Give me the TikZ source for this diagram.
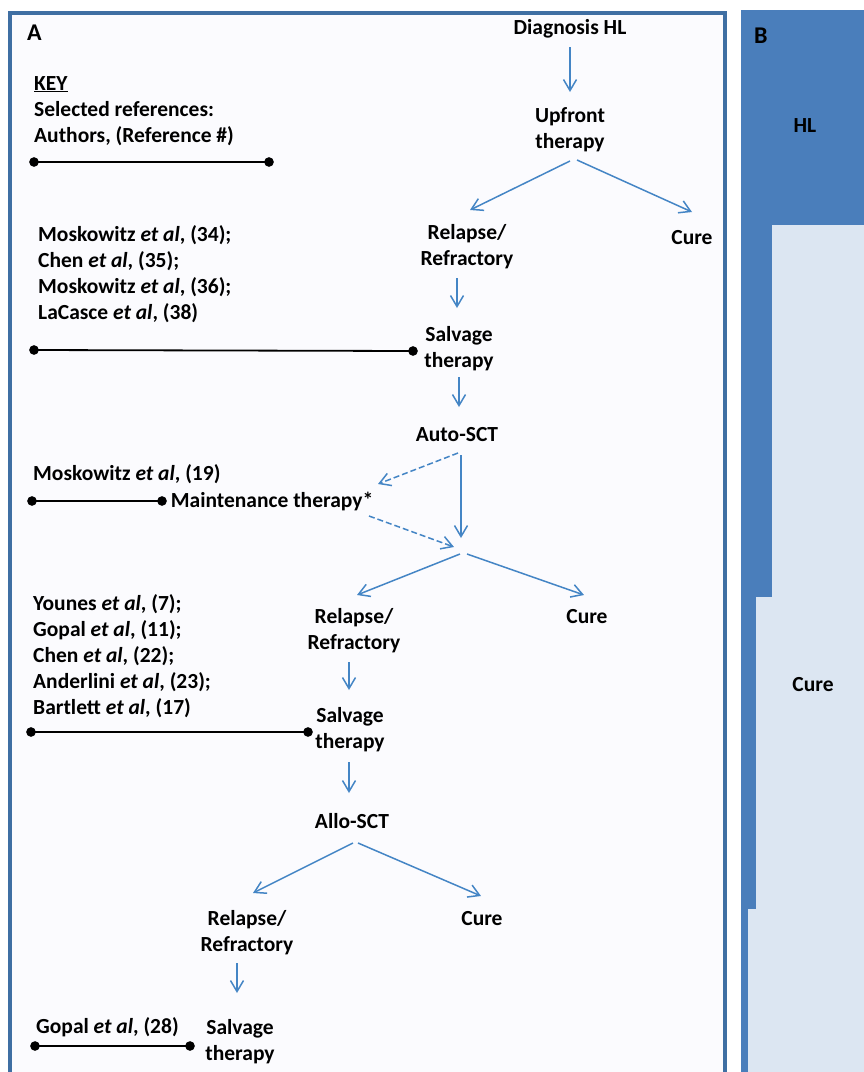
\documentclass[tikz,border=0pt]{standalone}
\usepackage{fontspec}
\setmainfont{Carlito}
\usetikzlibrary{arrows.meta}
\definecolor{flowblue}{HTML}{4485C5}
\definecolor{frameblue}{HTML}{3F6FA3}
\definecolor{barblue}{HTML}{4A7EBB}
\definecolor{curefill}{HTML}{DCE6F2}
\definecolor{paneA}{HTML}{FBFBFE}
\tikzset{
  lbl/.style={font=\fontsize{21.5}{26}\selectfont\bfseries, inner sep=0pt, align=center},
  refs/.style={lbl, align=left, anchor=base west},
  panel/.style={font=\fontsize{24}{28}\selectfont\bfseries, inner sep=0pt, anchor=base west},
  flow/.style={draw=flowblue, line width=1.5pt, -{Straight Barb[length=11pt,width=13pt]}},
  opt/.style={flow, dash pattern=on 6pt off 3pt},
  refline/.style={line width=1.8pt, {Circle[length=9.5pt]}-{Circle[length=9.5pt]}, shorten <=-4.75pt, shorten >=-4.75pt}
}
\begin{document}
\begin{tikzpicture}[x=1pt,y=-1pt]
\useasboundingbox (0,0) rectangle (863,1072);
\fill[white] (0,0) rectangle (863,1072);
% panel A
\fill[paneA] (10,13) rectangle (725,1075);
\draw[frameblue, line width=3.5pt] (10,1075) -- (10,13) -- (725,13) -- (725,1075);
% panel B
\fill[barblue] (741,10) rectangle (866,1075);
\fill[curefill] (772,225) -- (866,225) -- (866,1075) -- (748,1075) -- (748,909) -- (756,909) -- (756,597) -- (772,597) -- cycle;
\node[panel] (labB) at (754,43) {B};
\node[lbl] (hl) at (805,126) {HL};
\node[lbl] (cureB) at (813,685) {Cure};

% flow chart
\node[panel] (labA) at (27,40) {A};
\node[lbl] (dx) at (570,29) {Diagnosis HL};
\node[lbl] (up) at (570,130) {Upfront\\therapy};
\node[lbl] (rr1) at (467,247) {Relapse/\\Refractory};
\node[lbl] (cure1) at (692,238) {Cure};
\node[lbl] (sal1) at (459,349) {Salvage\\therapy};
\node[lbl] (auto) at (457,435) {Auto-SCT};
\node[lbl] (maint) at (272,501) {Maintenance therapy*};
\coordinate (j) at (461,553);
\node[lbl] (rr2) at (354,631) {Relapse/\\Refractory};
\node[lbl] (cure2) at (587,617) {Cure};
\node[lbl] (sal2) at (350,730) {Salvage\\therapy};
\node[lbl] (allo) at (352,821) {Allo-SCT};
\node[lbl] (rr3) at (247,933) {Relapse/\\Refractory};
\node[lbl] (cure3) at (482,919) {Cure};
\node[lbl] (sal3) at (240,1042) {Salvage\\therapy};

\draw[flow] ([yshift=-18pt]dx.center) -- ([yshift=38pt]up.center);
\draw[flow] ([yshift=-31pt]up.center) -- ([xshift=3pt,yshift=37pt]rr1.center);
\draw[flow] ([xshift=7pt,yshift=-30pt]up.center) -- ([yshift=26pt]cure1.center);
\draw[flow] ([xshift=-10pt,yshift=-31pt]rr1.center) -- ([xshift=-2pt,yshift=41pt]sal1.center);
\draw[flow] ([yshift=-28pt]sal1.center) -- ([xshift=2pt,yshift=28pt]auto.center);
\draw[opt] ([xshift=1pt,yshift=-18pt]auto.center) -- ([xshift=106pt,yshift=17pt]maint.center);
\draw[flow] ([xshift=4pt,yshift=-20pt]auto.center) -- ([yshift=15pt]j);
\draw[opt] ([xshift=97pt,yshift=-15pt]maint.center) -- ([xshift=-7pt,yshift=6pt]j);
\draw[flow] ([xshift=-1pt,yshift=-1pt]j) -- ([xshift=3pt,yshift=36pt]rr2.center);
\draw[flow] ([xshift=6pt,yshift=-1pt]j) -- ([xshift=-3pt,yshift=22pt]cure2.center);
\draw[flow] ([xshift=-5pt,yshift=-31pt]rr2.center) -- ([xshift=-1pt,yshift=40pt]sal2.center);
\draw[flow] ([xshift=-1pt,yshift=-32pt]sal2.center) -- ([xshift=-3pt,yshift=28pt]allo.center);
\draw[flow] ([xshift=1pt,yshift=-22pt]allo.center) -- ([xshift=6pt,yshift=40pt]rr3.center);
\draw[flow] ([xshift=6pt,yshift=-22pt]allo.center) -- ([xshift=-1pt,yshift=23pt]cure3.center);
\draw[flow] ([xshift=-10pt,yshift=-30pt]rr3.center) -- ([xshift=-3pt,yshift=49pt]sal3.center);

% selected references (multi-line nodes sit on their last baseline)
\node[refs] (key) at (34,142) {\underline{KEY}\\Selected references:\\Authors, (Reference \#)};
\coordinate (k1) at (34,162);
\coordinate (k2) at (269,162);
\draw[refline] (k1) -- (k2);
\node[refs] (refs1) at (38,319) {Moskowitz \textit{et al}, (34);\\Chen \textit{et al}, (35);\\Moskowitz \textit{et al}, (36);\\LaCasce \textit{et al}, (38)};
\coordinate (r1) at (34,350);
\draw[refline] (r1) -- ([xshift=-46pt,yshift=-2pt]sal1.center);
\node[refs] (refs2) at (33,480) {Moskowitz \textit{et al}, (19)};
\coordinate (r2) at (32,501);
\draw[refline] (r2) -- ([xshift=-110pt]maint.center);
\node[refs] (refs3) at (33,714) {Younes \textit{et al}, (7);\\Gopal \textit{et al}, (11);\\Chen \textit{et al}, (22);\\Anderlini \textit{et al}, (23);\\Bartlett \textit{et al}, (17)};
\coordinate (r3) at (31,732);
\draw[refline] (r3) -- ([xshift=-42pt,yshift=-2pt]sal2.center);
\node[refs] (refs4) at (36,1033) {Gopal \textit{et al}, (28)};
\coordinate (r4) at (35,1046);
\draw[refline] (r4) -- ([xshift=-50pt,yshift=-4pt]sal3.center);
\end{tikzpicture}
\end{document}
